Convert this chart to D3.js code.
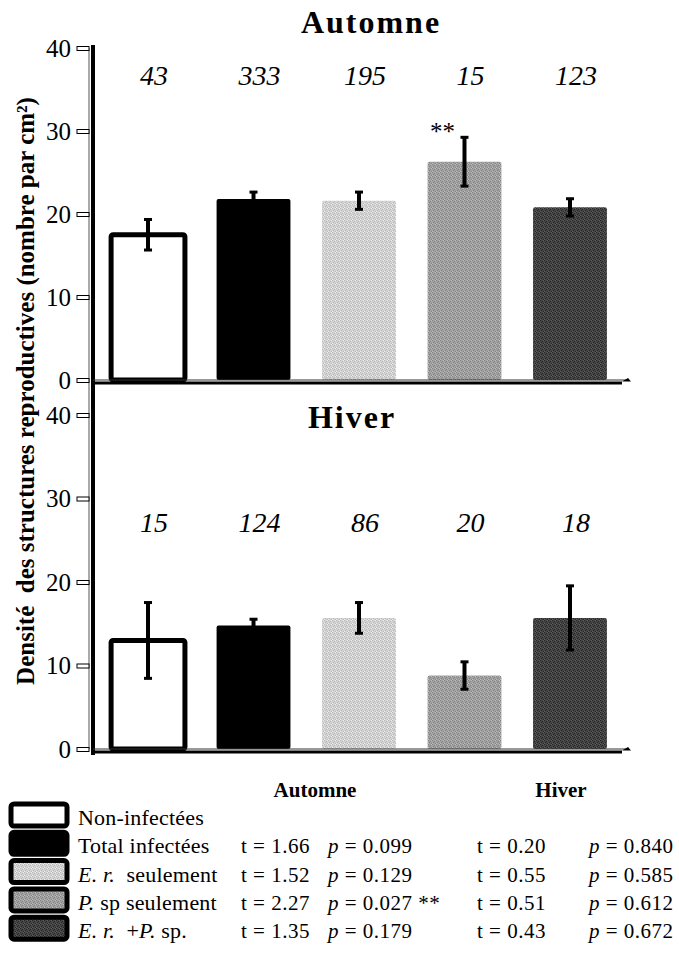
<!DOCTYPE html>
<html>
<head>
<meta charset="utf-8">
<script src="https://cdn.jsdelivr.net/npm/d3@7"></script>
<style>
  html, body { margin: 0; padding: 0; background: #fff; }
  svg { display: block; }
</style>
</head>
<body>
<svg id="chart" width="679" height="954"></svg>
<script>
// Group labels and colours
const categories = ["Non-infectées", "Total infectées", "E. r. seulement", "P. sp seulement", "E. r. + P. sp."];
const fills = ["#ffffff", "#000000", "url(#grainLight)", "url(#grainMid)", "url(#grainDark)"];

// Mean density and standard error, autumn
const autumnMean = [17.5, 21.8, 21.6, 26.3, 20.8];
const autumnErr  = [1.9, 0.9, 1.1, 3.0, 1.1];
const autumnN    = [43, 333, 195, 15, 123];

// Mean density and standard error, winter
const winterMean = [13.0, 14.8, 15.7, 8.8, 15.7];
const winterErr  = [4.6, 0.8, 1.9, 1.7, 3.9];
const winterN    = [15, 124, 86, 20, 18];

// t-tests against the non-infected group
const autumnT = ["", "1.66", "1.52", "2.27", "1.35"];
const autumnP = ["", "0.099", "0.129", "0.027 **", "0.179"];
const winterT = ["", "0.20", "0.55", "0.51", "0.43"];
const winterP = ["", "0.840", "0.585", "0.612", "0.672"];

const yTicks = [0, 10, 20, 30, 40];

const FONT = "Liberation Serif";
const svg = d3.select("#chart");

// Stippled grey fills (scattered dots on a 4x4 tile)
const grains = [
  { id: "grainLight", base: "#d4d4d4", dot: "#b8b8b8", dot2: "#ececec" },
  { id: "grainMid",   base: "#a2a2a2", dot: "#848484", dot2: "#bcbcbc" },
  { id: "grainDark",  base: "#464646", dot: "#262626", dot2: "#5e5e5e" }
];
const dotsA = [[0, 0], [2, 1], [3, 3], [1, 2]];
const dotsB = [[3, 0], [0, 3]];
const defs = svg.append("defs");
grains.forEach(gr => {
  const pat = defs.append("pattern").attr("id", gr.id)
    .attr("patternUnits", "userSpaceOnUse").attr("width", 4).attr("height", 4);
  pat.append("rect").attr("width", 4).attr("height", 4).attr("fill", gr.base);
  dotsA.forEach(([dx, dy]) => pat.append("rect").attr("x", dx).attr("y", dy)
    .attr("width", 1).attr("height", 1).attr("fill", gr.dot));
  dotsB.forEach(([dx, dy]) => pat.append("rect").attr("x", dx).attr("y", dy)
    .attr("width", 1).attr("height", 1).attr("fill", gr.dot2));
});

const x = d3.scaleBand()
  .domain(categories)
  .range([90, 628])
  .paddingInner(0.3)
  .paddingOuter(0.2);

const panels = [
  { title: "Automne", titleX: 371, titleY: 33, mean: autumnMean, err: autumnErr, n: autumnN,
    y: d3.scaleLinear().domain([0, 40]).range([380, 48]), nY: 85, star: 3 },
  { title: "Hiver", titleX: 352, titleY: 428, mean: winterMean, err: winterErr, n: winterN,
    y: d3.scaleLinear().domain([0, 40]).range([749, 415]), nY: 532, star: -1 }
];

const axisX = 93;

// Continuous left spine spanning both panels
svg.append("line")
  .attr("x1", axisX).attr("x2", axisX)
  .attr("y1", panels[0].y(40) - 3).attr("y2", panels[1].y(0) + 6)
  .attr("stroke", "#000").attr("stroke-width", 4);
svg.append("line")
  .attr("x1", axisX - 4).attr("x2", axisX - 4)
  .attr("y1", panels[0].y(40)).attr("y2", panels[1].y(0))
  .attr("stroke", "#555").attr("stroke-width", 1);

panels.forEach(p => {
  const g = svg.append("g");
  const y = p.y;

  // Title
  g.append("text")
    .attr("x", p.titleX).attr("y", p.titleY)
    .attr("text-anchor", "middle")
    .attr("font-weight", "bold")
    .attr("font-size", 32)
    .attr("letter-spacing", 2)
    .text(p.title);

  // Y axis ticks and labels
  const yAxis = d3.axisLeft(y).tickValues(yTicks).tickSize(0).tickPadding(0);
  const ax = g.append("g").attr("transform", `translate(${axisX - 4},0)`).call(yAxis);
  ax.select(".domain").remove();
  ax.selectAll(".tick text")
    .attr("x", -18)
    .attr("font-size", 25)
    .attr("fill", "#000");
  ax.selectAll(".tick").append("rect")
    .attr("x", -12).attr("y", -2)
    .attr("width", 12).attr("height", 4)
    .attr("fill", "#fff").attr("stroke", "#000").attr("stroke-width", 1);

  // Bars
  g.selectAll("rect.bar")
    .data(categories)
    .join("rect")
    .attr("class", "bar")
    .attr("x", d => x(d))
    .attr("width", x.bandwidth())
    .attr("y", (d, i) => y(p.mean[i]))
    .attr("height", (d, i) => y(0) - y(p.mean[i]))
    .attr("rx", 2)
    .attr("fill", (d, i) => fills[i])
    .attr("stroke", (d, i) => i === 0 ? "#000" : "none")
    .attr("stroke-width", 5);

  // Zero line and base axis
  g.append("line")
    .attr("x1", axisX).attr("x2", 628)
    .attr("y1", y(0)).attr("y2", y(0))
    .attr("stroke", "#333").attr("stroke-width", 1);
  g.append("line")
    .attr("x1", axisX).attr("x2", 622)
    .attr("y1", y(0) + 3).attr("y2", y(0) + 3)
    .attr("stroke", "#000").attr("stroke-width", 3);
  g.append("path")
    .attr("d", `M622,${y(0) + 1.5} L631,${y(0) + 1.5} L628,${y(0) - 2} Z`)
    .attr("fill", "#000");

  // Error bars
  const eb = g.selectAll("g.err")
    .data(categories)
    .join("g")
    .attr("class", "err")
    .attr("transform", d => `translate(${x(d) + x.bandwidth() / 2},0)`);
  eb.append("line")
    .attr("y1", (d, i) => y(p.mean[i] - p.err[i]))
    .attr("y2", (d, i) => y(p.mean[i] + p.err[i]))
    .attr("stroke", "#000").attr("stroke-width", 4);
  eb.append("rect")
    .attr("x", -4).attr("width", 8).attr("height", 3)
    .attr("y", (d, i) => y(p.mean[i] + p.err[i]) - 1);
  eb.append("rect")
    .attr("x", -4).attr("width", 8).attr("height", 3)
    .attr("y", (d, i) => y(p.mean[i] - p.err[i]) - 2);

  // Sample sizes
  g.selectAll("text.n")
    .data(categories)
    .join("text")
    .attr("class", "n")
    .attr("x", d => x(d) + x.bandwidth() / 2 + 6)
    .attr("y", p.nY)
    .attr("text-anchor", "middle")
    .attr("font-style", "italic")
    .attr("font-size", 28)
    .text((d, i) => p.n[i]);

  // Significance marker
  if (p.star >= 0) {
    const c = categories[p.star];
    g.append("text")
      .attr("x", x(c) + x.bandwidth() / 2 - 22)
      .attr("y", y(p.mean[p.star] + p.err[p.star]) + 3)
      .attr("text-anchor", "middle")
      .attr("font-size", 25)
      .text("**");
  }
});

// Y axis title
svg.append("text")
  .attr("transform", "translate(34,391) rotate(-90)")
  .attr("text-anchor", "middle")
  .attr("font-weight", "bold")
  .attr("font-size", 25)
  .style("white-space", "pre")
  .text("Densité  des structures reproductives (nombre par cm²)");

// Legend with test statistics
const leg = svg.append("g");
leg.append("text").attr("x", 315).attr("y", 797).attr("text-anchor", "middle")
  .attr("font-weight", "bold").attr("font-size", 21).text("Automne");
leg.append("text").attr("x", 561).attr("y", 797).attr("text-anchor", "middle")
  .attr("font-weight", "bold").attr("font-size", 21).text("Hiver");

const rowY = i => 825 + i * 28.3;

leg.selectAll("rect.key")
  .data(categories)
  .join("rect")
  .attr("class", "key")
  .attr("x", 11).attr("y", (d, i) => rowY(i) - 21)
  .attr("width", 56).attr("height", 22)
  .attr("rx", 3)
  .attr("fill", (d, i) => fills[i])
  .attr("stroke", "#000").attr("stroke-width", 5);

// Label parts: [text, italic]
const labelParts = [
  [["Non-infectées", false]],
  [["Total infectées", false]],
  [["E. r.", true], ["  seulement", false]],
  [["P.", true], [" sp seulement", false]],
  [["E. r.", true], ["  +", false], ["P.", true], [" sp.", false]]
];

const fs = 21;
const ls = 0.5;
categories.forEach((c, i) => {
  const t = leg.append("text").attr("x", 78).attr("y", rowY(i))
    .attr("font-size", 22).attr("letter-spacing", 0.2).style("white-space", "pre");
  labelParts[i].forEach(([s, it]) => {
    t.append("tspan").attr("font-style", it ? "italic" : "normal").text(s);
  });
  if (autumnT[i]) {
    leg.append("text").attr("x", 241).attr("y", rowY(i)).attr("font-size", fs)
      .attr("letter-spacing", ls).text("t = " + autumnT[i]);
    const pa = leg.append("text").attr("x", 328).attr("y", rowY(i)).attr("font-size", fs)
      .attr("letter-spacing", ls).style("white-space", "pre");
    pa.append("tspan").attr("font-style", "italic").text("p");
    pa.append("tspan").text(" = " + autumnP[i]);
    leg.append("text").attr("x", 477).attr("y", rowY(i)).attr("font-size", fs)
      .attr("letter-spacing", ls).text("t = " + winterT[i]);
    const pw = leg.append("text").attr("x", 589).attr("y", rowY(i)).attr("font-size", fs)
      .attr("letter-spacing", ls).style("white-space", "pre");
    pw.append("tspan").attr("font-style", "italic").text("p");
    pw.append("tspan").text(" = " + winterP[i]);
  }
});

// Serif face on every text element
svg.selectAll("text").attr("font-family", FONT);
svg.selectAll("g").filter(function () { return this.hasAttribute("font-family"); })
  .attr("font-family", FONT);
</script>
</body>
</html>
